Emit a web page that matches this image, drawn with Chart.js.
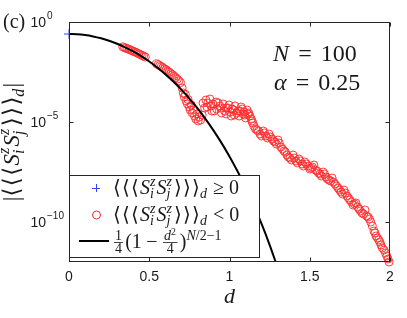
<!DOCTYPE html>
<html>
<head>
<meta charset="utf-8">
<script src="https://cdn.jsdelivr.net/npm/chart.js@4"></script>
<style>
  body { margin: 0; background: #fff; }
  canvas { display: block; }
</style>
</head>
<body>
<canvas id="chartContainer" width="407" height="318"></canvas>
<script>
// values are stored as log10 of |<<<Si Sj>>>_d|
const posD = [0];
const posLog = [-0.60];

const negD = [
  0.335, 0.345, 0.355, 0.365, 0.375, 0.385, 0.395, 0.405, 0.415, 0.425, 0.435, 0.445, 0.455, 0.465, 0.475,
  0.545, 0.555, 0.565, 0.575, 0.585, 0.595, 0.605, 0.615, 0.625, 0.635, 0.645, 0.655, 0.665, 0.675, 0.685, 0.695,
  0.705, 0.712, 0.718, 0.725, 0.73, 0.738, 0.742, 0.75, 0.755, 0.762, 0.768, 0.775, 0.782, 0.79, 0.797, 0.805, 0.812, 0.82, 0.83,
  0.835, 0.853, 0.86, 0.878, 0.89, 0.897, 0.916, 0.92, 0.94, 0.95, 0.96, 0.978, 0.98, 0.997, 1.005, 1.016, 1.03, 1.034,
  1.053, 1.06, 1.072, 1.085, 1.09, 1.1, 1.11, 1.12, 1.128, 1.14, 1.153, 1.171, 1.19, 1.21, 1.227, 1.246, 1.265, 1.283,
  1.302, 1.32, 1.34, 1.358, 1.377, 1.396, 1.414, 1.433, 1.452, 1.47, 1.49, 1.508, 1.526, 1.545, 1.564, 1.583, 1.601,
  1.62, 1.639, 1.657, 1.676, 1.695, 1.713, 1.732, 1.75, 1.77, 1.788, 1.807, 1.826, 1.844, 1.863, 1.88, 1.9, 1.913,
  1.93, 1.944, 1.963, 1.98, 1.994,
  0.845, 0.865, 0.885, 0.905, 0.93, 0.945, 0.97, 0.99, 1.01, 1.025, 1.045, 1.065, 1.08, 1.095, 1.115, 1.135,
  1.145, 1.162, 1.18, 1.2, 1.218, 1.236, 1.255, 1.274, 1.292, 1.31, 1.33, 1.348, 1.367, 1.386, 1.405, 1.423,
  1.442, 1.46, 1.48, 1.5, 1.517, 1.536, 1.555, 1.573, 1.592, 1.61, 1.63, 1.648, 1.667, 1.686, 1.704, 1.722,
  1.741, 1.76, 1.779, 1.798, 1.816, 1.835, 1.854, 1.872, 1.89, 1.906, 1.922, 1.937, 1.952, 1.972, 1.988
];
const negLog = [
  -1.24, -1.28, -1.31, -1.34, -1.37, -1.41, -1.44, -1.48, -1.51, -1.55, -1.59, -1.63, -1.67, -1.71, -1.75,
  -2.09, -2.13, -2.18, -2.23, -2.28, -2.34, -2.39, -2.46, -2.51, -2.58, -2.64, -2.71, -2.78, -2.86, -2.94, -3.03,
  -3.30, -3.55, -3.75, -3.62, -3.95, -4.10, -3.88, -4.25, -4.40, -4.15, -4.55, -4.40, -4.70, -4.85, -4.60, -4.95, -4.75, -4.90, -4.65,
  -4.05, -3.90, -4.25, -3.85, -4.45, -4.10, -4.00, -4.35, -4.20, -4.55, -4.10, -4.30, -4.60, -4.15, -4.50, -4.35, -4.65, -4.20,
  -4.45, -4.70, -4.25, -4.60, -4.50, -4.80, -4.40, -4.55, -4.70, -4.95, -5.20, -5.40, -5.60, -5.45, -5.70, -5.60, -5.85, -6.00,
  -5.90, -6.25, -6.45, -6.65, -6.80, -6.65, -6.95, -6.85, -7.10, -7.00, -7.20, -7.30, -7.15, -7.45, -7.60, -7.50, -7.75,
  -7.90, -7.80, -8.10, -8.30, -8.50, -8.40, -8.70, -8.90, -9.15, -9.05, -9.35, -9.55, -9.40, -9.75, -10.00, -10.45, -10.70,
  -10.90, -11.15, -11.40, -11.70, -12.00,
  -4.30, -4.05, -4.20, -4.45, -4.05, -4.30, -4.45, -4.30, -4.70, -4.40, -4.55, -4.45, -4.35, -4.65, -4.60, -4.85,
  -5.05, -5.35, -5.45, -5.70, -5.55, -5.80, -5.75, -5.95, -6.10, -6.05, -6.35, -6.50, -6.75, -6.90, -6.80, -7.05,
  -6.95, -7.20, -7.10, -7.35, -7.25, -7.40, -7.55, -7.70, -7.60, -7.85, -7.95, -8.00, -8.20, -8.40, -8.60, -8.55,
  -8.80, -9.00, -9.10, -9.25, -9.45, -9.60, -9.70, -9.85, -10.20, -10.55, -10.80, -11.00, -11.30, -11.55, -11.85
];

// theory line 1/4 (1 - d^2/4)^(N/2-1), log10 values
const curveD = [0, 0.05, 0.1, 0.15, 0.2, 0.25, 0.3, 0.35, 0.4, 0.45, 0.5, 0.55, 0.6, 0.65, 0.7, 0.75, 0.8, 0.85, 0.9, 0.95, 1.0, 1.05, 1.1, 1.15, 1.2, 1.25, 1.3];
const curveLog = [-0.602, -0.615, -0.655, -0.722, -0.816, -0.937, -1.086, -1.264, -1.471, -1.708, -1.976, -2.276, -2.609, -2.978, -3.383, -3.827, -4.312, -4.841, -5.417, -6.044, -6.724, -7.465, -8.268, -9.144, -10.099, -11.143, -12.286];

const xTicks = [0, 0.5, 1, 1.5, 2];
const yTickExp = [-10, -5, 0];

const toPts = (xs, ls) => xs.map((x, i) => ({ x: x, y: Math.pow(10, ls[i]) }));

const SERIF = "'Liberation Serif','DejaVu Serif',serif";
const SANS = "'Liberation Sans',Arial,sans-serif";
const INK = '#1a1a1a';

function fnt(sz, it) { return (it ? 'italic ' : '') + sz + 'px ' + SERIF; }

// tiny math-ish text layout: strings upright, {i} italic, {sup,sub} scripts, {frac}, {sp} space
function math(ctx, items, x, y, sz, draw) {
  let cx = x;
  for (const it of items) {
    if (typeof it === 'string') {
      ctx.font = fnt(sz, false);
      if (draw) ctx.fillText(it, cx, y);
      cx += ctx.measureText(it).width;
    } else if (it.i) {
      ctx.font = fnt(sz, true);
      if (draw) ctx.fillText(it.i, cx, y);
      cx += ctx.measureText(it.i).width + (it.k || 0) * sz;
    } else if (it.sup || it.sub) {
      const s = sz * 0.7;
      let w = 0;
      if (it.sup) w = Math.max(w, math(ctx, it.sup, cx, y - sz * 0.42, s, draw));
      if (it.sub) w = Math.max(w, math(ctx, it.sub, cx, y + sz * 0.22, s, draw));
      cx += w + sz * 0.05;
    } else if (it.frac) {
      const s = sz * 0.7;
      const wn = math(ctx, it.frac[0], 0, 0, s, false);
      const wd = math(ctx, it.frac[1], 0, 0, s, false);
      const w = Math.max(wn, wd) + sz * 0.2;
      const by = y - sz * 0.28;
      if (draw) {
        math(ctx, it.frac[0], cx + (w - wn) / 2, by - sz * 0.1, s, true);
        math(ctx, it.frac[1], cx + (w - wd) / 2, by + s * 0.78, s, true);
        ctx.fillRect(cx + sz * 0.05, by - 0.4, w - sz * 0.1, 0.8);
      }
      cx += w + sz * 0.06;
    } else if (it.sp) {
      cx += it.sp * sz;
    }
  }
  return cx - x;
}

const LA = '\u27E8', RA = '\u27E9', g = { sp: 0.06 };
const SiSj = [LA, g, LA, g, LA, g, { i: 'S' }, { sup: [{ i: 'z' }], sub: [{ i: 'i' }] }, { i: 'S' }, { sup: [{ i: 'z' }], sub: [{ i: 'j' }] },
  g, RA, g, RA, g, RA, { sub: [{ i: 'd' }] }];
const legendRows = [
  SiSj.concat([{ sp: 0.25 }, '\u2265', { sp: 0.25 }, '0']),
  SiSj.concat([{ sp: 0.25 }, '<', { sp: 0.25 }, '0']),
  [{ frac: [['1'], ['4']] }, '(1', { sp: 0.22 }, '\u2212', { sp: 0.22 }, { frac: [[{ i: 'd' }, { sup: ['2'] }], ['4']] }, ')', { sup: [{ i: 'N' }, '/2\u22121'] }]
];

const decorPlugin = {
  id: 'decor',
  afterDraw(chart) {
    const ctx = chart.ctx;
    const a = chart.chartArea;
    const xs = chart.scales.x, ys = chart.scales.y;
    const L = Math.round(a.left) + 0.5, R = Math.round(a.right) - 0.5;
    const T = Math.round(a.top) + 0.5, B = Math.round(a.bottom) - 0.5;
    ctx.save();
    // box and inward ticks
    ctx.strokeStyle = '#262626';
    ctx.lineWidth = 1;
    ctx.strokeRect(L, T, R - L, B - T);
    ctx.beginPath();
    xs.ticks.forEach(t => {
      const px = Math.round(xs.getPixelForValue(t.value)) + 0.5;
      ctx.moveTo(px, B); ctx.lineTo(px, B - 4);
      ctx.moveTo(px, T); ctx.lineTo(px, T + 4);
    });
    ys.ticks.forEach(t => {
      const py = Math.round(ys.getPixelForValue(t.value)) + 0.5;
      ctx.moveTo(L, py); ctx.lineTo(L + 4, py);
      ctx.moveTo(R, py); ctx.lineTo(R - 4, py);
    });
    ctx.stroke();

    // y tick labels 10^n
    ctx.fillStyle = INK;
    ys.ticks.forEach(t => {
      const py = ys.getPixelForValue(t.value);
      const e = Math.round(Math.log10(t.value));
      ctx.font = '14px ' + SANS;
      ctx.textBaseline = 'middle';
      ctx.textAlign = 'right';
      ctx.fillText('10', 46, py + 1);
      ctx.textAlign = 'left';
      ctx.font = '10px ' + SANS;
      ctx.fillText(String(e).replace('-', '\u2212'), 47, py - 6);
    });
    ctx.textBaseline = 'alphabetic';
    ctx.textAlign = 'left';

    // panel label and parameters
    math(ctx, ['(c)'], 3, 28, 20, true);
    math(ctx, [{ i: 'N' }, { sp: 0.38 }, '=', { sp: 0.38 }, '100'], 273, 61, 24, true);
    math(ctx, [{ i: '\u03B1' }, { sp: 0.38 }, '=', { sp: 0.38 }, '0.25'], 274, 90, 24, true);

    // axis titles
    const wd = math(ctx, [{ i: 'd' }], 0, 0, 22, false);
    math(ctx, [{ i: 'd' }], xs.getPixelForValue(1) - wd / 2, 303, 22, true);
    const ylab = ['|'].concat(SiSj, ['|']);
    ctx.save();
    ctx.translate(19, (a.top + a.bottom) / 2);
    ctx.rotate(-Math.PI / 2);
    const wy = math(ctx, ylab, 0, 0, 23, false);
    math(ctx, ylab, -wy / 2, 0, 23, true);
    ctx.restore();

    // legend box
    ctx.fillStyle = '#fff';
    ctx.fillRect(69.5, 175.5, 190, 82);
    ctx.strokeStyle = '#262626';
    ctx.strokeRect(69.5, 175.5, 190, 82);
    // markers
    ctx.strokeStyle = '#3344ff';
    ctx.beginPath();
    ctx.moveTo(92, 188.5); ctx.lineTo(100, 188.5);
    ctx.moveTo(96.5, 184); ctx.lineTo(96.5, 192);
    ctx.stroke();
    ctx.strokeStyle = '#ff2a2a';
    ctx.beginPath();
    ctx.arc(96.5, 215, 4, 0, Math.PI * 2);
    ctx.stroke();
    ctx.strokeStyle = '#000';
    ctx.lineWidth = 2;
    ctx.beginPath();
    ctx.moveTo(79, 241); ctx.lineTo(109, 241);
    ctx.stroke();
    ctx.fillStyle = INK;
    math(ctx, legendRows[0], 113, 194, 20, true);
    math(ctx, legendRows[1], 113, 221, 20, true);
    math(ctx, legendRows[2], 113, 248, 20, true);
    ctx.restore();
  }
};

const chartContainer = document.getElementById('chartContainer').getContext('2d');
const chart = new Chart(chartContainer, {
  type: 'scatter',
  data: {
    datasets: [
      {
        label: 'line',
        data: toPts(curveD, curveLog),
        showLine: true,
        borderColor: '#000',
        borderWidth: 2,
        pointRadius: 0,
        cubicInterpolationMode: 'monotone',
        fill: false
      },
      {
        label: 'neg',
        data: toPts(negD, negLog),
        pointStyle: 'circle',
        pointRadius: 4,
        borderColor: '#ff2a2a',
        borderWidth: 0.9,
        backgroundColor: 'rgba(0,0,0,0)',
        clip: 6
      },
      {
        label: 'pos',
        data: toPts(posD, posLog),
        pointStyle: 'cross',
        pointRadius: 5,
        borderColor: '#3344ff',
        borderWidth: 1,
        clip: 6
      }
    ]
  },
  options: {
    responsive: false,
    animation: false,
    devicePixelRatio: 1,
    layout: { padding: { top: 22, right: 17, left: 0, bottom: 0 } },
    plugins: { legend: { display: false }, tooltip: { enabled: false } },
    scales: {
      x: {
        type: 'linear',
        min: 0,
        max: 2,
        afterBuildTicks: s => { s.ticks = xTicks.map(v => ({ value: v })); },
        afterFit: s => { s.height = 56; },
        grid: { display: false, drawTicks: false },
        border: { display: false },
        ticks: { padding: 7, color: INK, font: { family: SANS, size: 14 }, callback: v => String(v) }
      },
      y: {
        type: 'logarithmic',
        min: 1e-12,
        max: 1,
        afterBuildTicks: s => { s.ticks = yTickExp.map(e => ({ value: Math.pow(10, e) })); },
        afterFit: s => { s.width = 69; },
        grid: { display: false, drawTicks: false },
        border: { display: false },
        ticks: { display: false }
      }
    }
  },
  plugins: [decorPlugin]
});
</script>
</body>
</html>
